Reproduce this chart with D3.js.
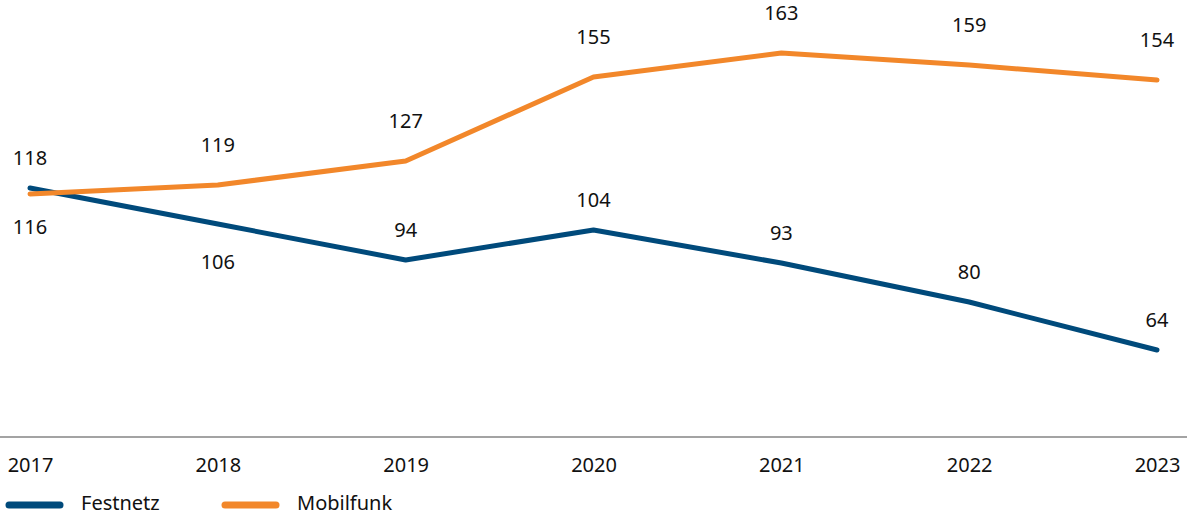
<!DOCTYPE html>
<html>
<head>
<meta charset="utf-8">
<script src="https://cdn.jsdelivr.net/npm/d3@7"></script>
<style>
  body { margin: 0; background: #fff; }
  svg text { font-family: "Noto Sans", "Open Sans", sans-serif; fill: #111; }
</style>
</head>
<body>
<div id="chart"></div>
<script>
(function(d3){

    // Jahre auf der x-Achse
    var years = ["2017", "2018", "2019", "2020", "2021", "2022", "2023"];
    // Werte je Reihe
    var festnetz = [118, 106, 94, 104, 93, 80, 64];
    var mobilfunk = [116, 119, 127, 155, 163, 159, 154];
    // wo das Label sitzt (oben/unten)
    var festnetzLabelPos = ["up", "down", "up", "up", "up", "up", "up"];
    var mobilfunkLabelPos = ["down", "up", "up", "up", "up", "up", "up"];

    var W = 1187, H = 515;
    var blau = "#004a7b", orange = "#f2872a";

    var svg = d3.select("#chart").append("svg")
            .attr("width", W)
            .attr("height", H);

    var x = d3.scalePoint().domain(years).range([30, 1157]);
    var y = d3.scaleLinear().domain([35, 180]).range([437, 2]);

    // Achse
    var xAxis = svg.append("g")
            .attr("transform", "translate(0,437)")
            .call(d3.axisBottom(x).tickSize(0).tickPadding(21));
    xAxis.select(".domain").remove();
    xAxis.selectAll("text")
            .style("font-size", "20px")
            .attr("fill", "#111");
    svg.append("line")
            .attr("x1", 0).attr("x2", W)
            .attr("y1", 437).attr("y2", 437)
            .attr("stroke", "#a3a3a3")
            .attr("stroke-width", 2);

    var line = d3.line()
            .x(function(d, i){ return x(years[i]); })
            .y(function(d){ return y(d); });

    var series = [
        {name: "Festnetz", values: festnetz, pos: festnetzLabelPos, color: blau, up: -28, down: 40},
        {name: "Mobilfunk", values: mobilfunk, pos: mobilfunkLabelPos, color: orange, up: -38, down: 35}
    ];

    series.forEach(function(s){
        svg.append("path")
                .datum(s.values)
                .attr("d", line)
                .attr("fill", "none")
                .attr("stroke", s.color)
                .attr("stroke-width", 5)
                .attr("stroke-linecap", "round")
                .attr("stroke-linejoin", "round");

        svg.selectAll(null)
                .data(s.values)
                .enter()
                .append("text")
                .attr("x", function(d, i){ return x(years[i]); })
                .attr("y", function(d, i){ return y(d) + (s.pos[i] === "up" ? s.up : s.down); })
                .attr("text-anchor", "middle")
                .attr("dominant-baseline", "middle")
                .style("font-size", "20px")
                .text(function(d){ return d; });
    });

    // Legende
    var legend = svg.append("g").attr("transform", "translate(0,505)");
    var legX = [6, 222];
    series.forEach(function(s, i){
        legend.append("line")
                .attr("x1", legX[i] + 3).attr("x2", legX[i] + 54)
                .attr("y1", 0).attr("y2", 0)
                .attr("stroke", s.color)
                .attr("stroke-width", 7)
                .attr("stroke-linecap", "round");
        legend.append("text")
                .attr("x", legX[i] + 75)
                .attr("y", 0)
                .attr("dominant-baseline", "middle")
                .style("font-size", "20px")
                .text(s.name);
    });

})(d3);
</script>
</body>
</html>
